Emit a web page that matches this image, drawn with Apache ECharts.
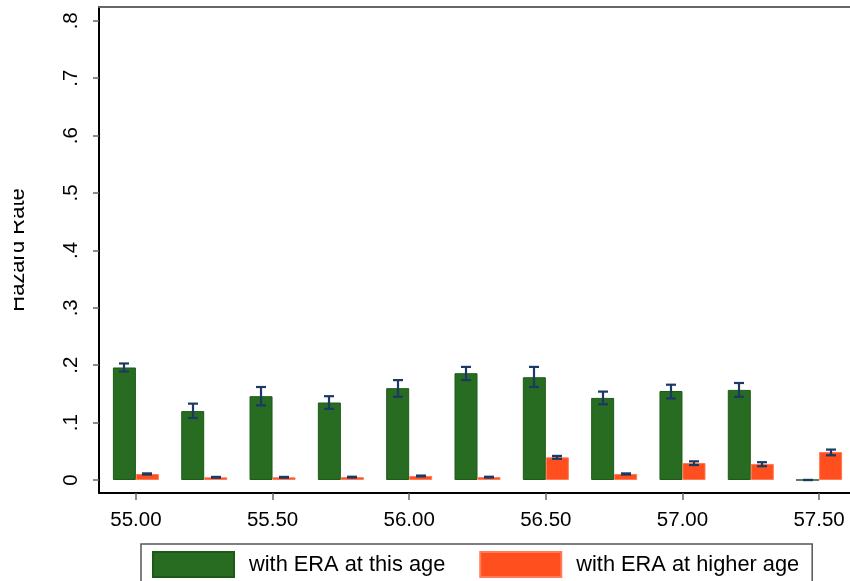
<!DOCTYPE html>
<html>
<head>
<meta charset="utf-8">
<script src="https://cdn.jsdelivr.net/npm/echarts@6/dist/echarts.min.js"></script>
<style>
  html, body { margin: 0; padding: 0; background: #fff; }
  #chart { width: 850px; height: 581px; }
</style>
</head>
<body>
<div id="chart"></div>
<script>
// Age at which the hazard is measured
const ages = [55.00, 55.25, 55.50, 55.75, 56.00, 56.25, 56.50, 56.75, 57.00, 57.25, 57.50];

// Hazard rate, with ERA at this age (point estimate and 95% interval)
const eraThisAge   = [0.196, 0.120, 0.146, 0.135, 0.160, 0.186, 0.179, 0.143, 0.155, 0.157, 0.000];
const eraThisLo    = [0.189, 0.108, 0.130, 0.124, 0.145, 0.174, 0.162, 0.132, 0.142, 0.145, 0.000];
const eraThisHi    = [0.203, 0.133, 0.162, 0.146, 0.174, 0.197, 0.197, 0.154, 0.166, 0.169, 0.000];

// Hazard rate, with ERA at higher age
const eraHigherAge = [0.0105, 0.0047, 0.0047, 0.0050, 0.0070, 0.0050, 0.0395, 0.0105, 0.0296, 0.0280, 0.0488];
const eraHigherLo  = [0.0095, 0.0040, 0.0040, 0.0043, 0.0063, 0.0043, 0.0370, 0.0095, 0.0260, 0.0240, 0.0430];
const eraHigherHi  = [0.0115, 0.0054, 0.0054, 0.0057, 0.0077, 0.0057, 0.0420, 0.0115, 0.0325, 0.0310, 0.0530];

// Axis ticks
const xTicks = [55.0, 55.5, 56.0, 56.5, 57.0, 57.5];
const yTicks = [0, 0.1, 0.2, 0.3, 0.4, 0.5, 0.6, 0.7, 0.8];
const yTickLabels = ['0', '.1', '.2', '.3', '.4', '.5', '.6', '.7', '.8'];

const GREEN = '#286c22';
const ORANGE = '#ff4f1e';
const NAVY = '#1c3964';
const BAR_W = 23;
const FONT = '"Liberation Sans", Arial, Helvetica, sans-serif';

const chart = echarts.init(document.getElementById('chart'), null, { renderer: 'canvas' });

function errorBarSeries(lo, hi, offset) {
  return {
    type: 'custom',
    xAxisIndex: 0,
    yAxisIndex: 0,
    silent: true,
    z: 5,
    data: ages.map((a, i) => [a, lo[i], hi[i]]),
    renderItem: function (params, api) {
      const pLo = api.coord([api.value(0), api.value(1)]);
      const pHi = api.coord([api.value(0), api.value(2)]);
      const cx = Math.round(pLo[0] + offset);
      const half = 5;
      const style = { stroke: NAVY, lineWidth: 2.2 };
      return {
        type: 'group',
        children: [
          { type: 'line', shape: { x1: cx, y1: pLo[1], x2: cx, y2: pHi[1] }, style: style },
          { type: 'line', shape: { x1: cx - half, y1: pLo[1], x2: cx + half, y2: pLo[1] }, style: style },
          { type: 'line', shape: { x1: cx - half, y1: pHi[1], x2: cx + half, y2: pHi[1] }, style: style }
        ]
      };
    }
  };
}

const option = {
  animation: false,
  backgroundColor: '#fff',
  grid: { left: 99, right: 0, top: 7, bottom: 88, containLabel: false, outerBoundsMode: 'none' },
  xAxis: [
    {
      type: 'value',
      min: 54.865,
      max: 57.613,
      position: 'bottom',
      axisLine: { show: true, onZero: false, lineStyle: { color: '#000', width: 2 } },
      axisTick: { show: true, length: 7, lineStyle: { color: '#666', width: 1.5 }, customValues: xTicks },
      axisLabel: {
        show: true, margin: 17, color: '#000', fontSize: 20.5, fontFamily: FONT,
        customValues: xTicks,
        formatter: v => v.toFixed(2)
      },
      splitLine: { show: false }
    },
    {
      type: 'value',
      min: 54.865,
      max: 57.613,
      position: 'top',
      axisLine: { show: true, onZero: false, lineStyle: { color: '#666', width: 2 } },
      axisTick: { show: false },
      axisLabel: { show: false },
      splitLine: { show: false }
    }
  ],
  yAxis: {
    type: 'value',
    min: -0.02265,
    max: 0.824,
    name: 'Hazard Rate',
    nameLocation: 'middle',
    nameRotate: 90,
    nameGap: 70,
    nameTextStyle: { color: '#000', fontSize: 22, fontFamily: FONT },
    axisLine: { show: true, onZero: false, lineStyle: { color: '#000', width: 2 } },
    axisTick: { show: true, length: 6, lineStyle: { color: '#666', width: 1.5 }, customValues: yTicks },
    axisLabel: {
      show: true, rotate: 90, margin: 17, color: '#000', fontSize: 20.5, fontFamily: FONT,
      customValues: yTicks,
      formatter: v => yTickLabels[yTicks.findIndex(t => Math.abs(t - v) < 1e-9)]
    },
    splitLine: { show: false }
  },
  legend: {
    left: 141,
    top: 544,
    orient: 'horizontal',
    itemWidth: 81,
    itemHeight: 25,
    itemGap: 34,
    padding: [7, 13, 10, 11],
    borderColor: '#555',
    borderWidth: 1.5,
    icon: 'rect',
    textStyle: { color: '#000', fontSize: 21.8, fontFamily: FONT, padding: [0, 0, 0, 10] },
    data: ['with ERA at this age', 'with ERA at higher age']
  },
  series: [
    {
      name: 'with ERA at this age',
      type: 'bar',
      barWidth: BAR_W,
      barGap: '0%',
      itemStyle: { color: GREEN, borderColor: '#1d5a18', borderWidth: 1 },
      data: ages.map((a, i) => [a, eraThisAge[i]])
    },
    {
      name: 'with ERA at higher age',
      type: 'bar',
      barWidth: BAR_W,
      barGap: '0%',
      itemStyle: { color: ORANGE, borderColor: '#ff7a55', borderWidth: 1 },
      data: ages.map((a, i) => [a, eraHigherAge[i]])
    },
    errorBarSeries(eraThisLo, eraThisHi, -BAR_W / 2),
    errorBarSeries(eraHigherLo, eraHigherHi, BAR_W / 2)
  ],
  graphic: [
    // white margin strip at the left edge of the canvas
    { type: 'rect', left: 0, top: 0, z: 100, shape: { width: 14, height: 581 }, style: { fill: '#fff' } }
  ]
};

chart.setOption(option);
</script>
</body>
</html>
